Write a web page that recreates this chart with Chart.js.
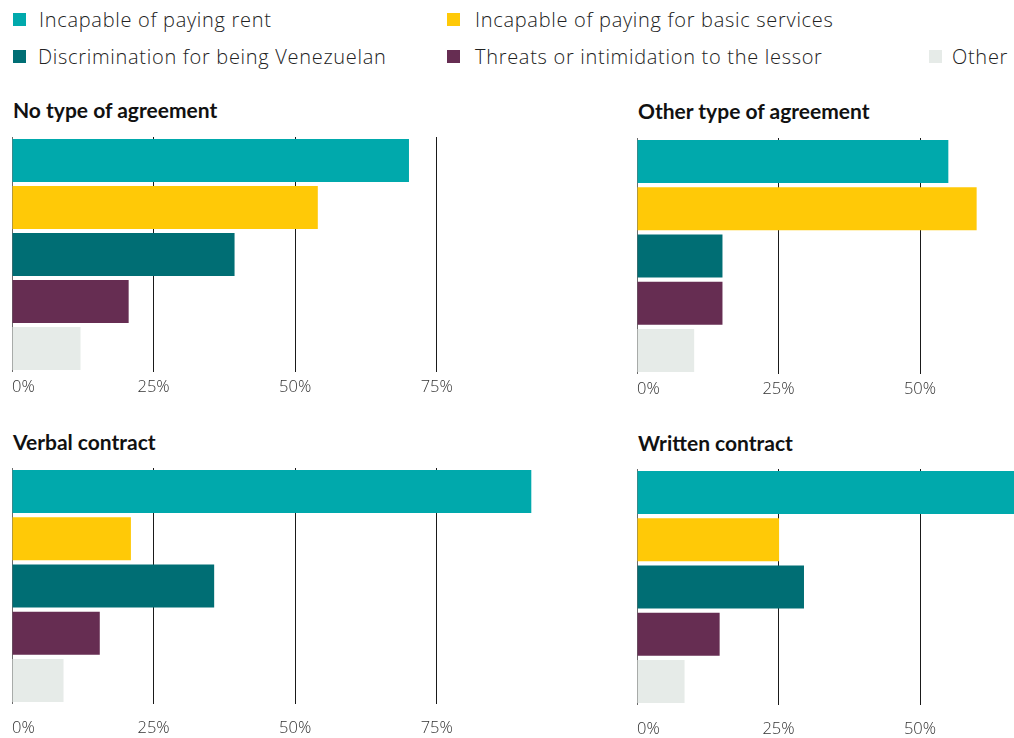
<!DOCTYPE html>
<html lang="en">
<head>
<meta charset="utf-8">
<title>Reasons for eviction by type of rental agreement</title>
<script src="https://cdn.jsdelivr.net/npm/chart.js@4.4.1/dist/chart.umd.min.js"></script>
<style>
  html, body { margin: 0; padding: 0; background: #ffffff; overflow: hidden; }
  body { width: 1014px; height: 738px; position: relative; font-family: "Open Sans", sans-serif; }
  .legend-item { position: absolute; height: 20px; display: flex; align-items: center; white-space: nowrap;
    font-family: "Open Sans", sans-serif; font-weight: 300; font-size: 20px; letter-spacing: 0.7px; color: #222; }
  .legend-swatch { width: 13px; height: 13px; margin-right: 13px; flex: none; }
  .panel-title { position: absolute; font-family: Lato, sans-serif; font-weight: 700; font-size: 21px;
    line-height: 21px; color: #111; white-space: nowrap; }
  canvas { position: absolute; }
</style>
</head>
<body>
<script>
// Reasons for eviction (one bar each, same order in every panel)
const reasons = [
  'Incapable of paying rent',
  'Incapable of paying for basic services',
  'Discrimination for being Venezuelan',
  'Threats or intimidation to the lessor',
  'Other'
];
const reasonColors = ['#00A9AC', '#FFC907', '#006E74', '#662D52', '#E6EBE8'];

// Panel titles: type of rental agreement
const agreementTypes = ['No type of agreement', 'Other type of agreement', 'Verbal contract', 'Written contract'];

// Share of respondents (%) citing each reason
const noAgreementPct    = [70.1, 54.0, 39.3, 20.6, 12.1];
const otherAgreementPct = [55.0, 60.0, 15.1, 15.1, 10.1];
const verbalContractPct = [91.7, 21.0, 35.7, 15.5, 9.1];
const writtenContractPct = [68.0, 25.1, 29.5, 14.6, 8.4];

// Axis ticks (percent)
const tickValues = [0, 25, 50, 75];

// ---- Legend ----
const legendSlots = [
  { left: 13,  top: 9,  gap: 13 },
  { left: 447, top: 9,  gap: 15 },
  { left: 13,  top: 46, gap: 12 },
  { left: 447, top: 46, gap: 15 },
  { left: 929, top: 46, gap: 10 }
];
reasons.forEach((name, i) => {
  const item = document.createElement('div');
  item.className = 'legend-item';
  item.style.left = legendSlots[i].left + 'px';
  item.style.top = legendSlots[i].top + 'px';
  const sw = document.createElement('span');
  sw.className = 'legend-swatch';
  sw.style.background = reasonColors[i];
  sw.style.marginRight = legendSlots[i].gap + 'px';
  const tx = document.createElement('span');
  tx.textContent = name;
  item.appendChild(sw);
  item.appendChild(tx);
  document.body.appendChild(item);
});

// ---- Panels ----
const panelLayout = [
  { values: noAgreementPct,    left: 12,  top: 137, width: 521, areaH: 235, max: 92,   titleTop: 99,  labelLine: 31 },
  { values: otherAgreementPct, left: 637, top: 138, width: 377, areaH: 236, max: 66.6, titleTop: 100, labelLine: 30 },
  { values: verbalContractPct, left: 12,  top: 468, width: 521, areaH: 236, max: 92,   titleTop: 431, labelLine: 49 },
  { values: writtenContractPct,left: 637, top: 469, width: 377, areaH: 236, max: 66.6, titleTop: 432, labelLine: 48 }
];

panelLayout.forEach((p, k) => {
  const t = document.createElement('div');
  t.className = 'panel-title';
  t.textContent = agreementTypes[k];
  t.style.left = (p.left + 1) + 'px';
  t.style.top = p.titleTop + 'px';
  document.body.appendChild(t);

  const canvas = document.createElement('canvas');
  const h = p.areaH + p.labelLine;
  canvas.width = p.width;
  canvas.height = h;
  canvas.style.left = p.left + 'px';
  canvas.style.top = p.top + 'px';
  canvas.style.width = p.width + 'px';
  canvas.style.height = h + 'px';
  document.body.appendChild(canvas);

  new Chart(canvas, {
    type: 'bar',
    data: {
      labels: reasons,
      datasets: [{
        data: p.values,
        backgroundColor: reasonColors,
        borderWidth: 0,
        barPercentage: 0.91,
        categoryPercentage: 1.0
      }]
    },
    options: {
      indexAxis: 'y',
      responsive: false,
      devicePixelRatio: 1,
      animation: false,
      layout: { padding: 0 },
      plugins: { legend: { display: false }, tooltip: { enabled: false } },
      scales: {
        y: { display: false },
        x: {
          type: 'linear',
          min: 0,
          max: p.max,
          border: { display: false },
          // fixed tick set, plus an unlabeled tick at the axis end so that
          // 'inner' alignment only pins the 0% label to the left edge
          afterBuildTicks: (scale) => {
            const ticks = tickValues.filter(v => v <= scale.max).map(v => ({ value: v }));
            if (ticks[ticks.length - 1].value !== scale.max) ticks.push({ value: scale.max, hidden: true });
            scale.ticks = ticks;
          },
          grid: {
            drawTicks: false,
            lineWidth: 1,
            color: (ctx) => {
              const v = ctx.tick ? ctx.tick.value : 0;
              if (!tickValues.includes(v)) return 'rgba(0,0,0,0)';
              return v === 0 ? '#6b6b6b' : '#1a1a1a';
            }
          },
          ticks: {
            autoSkip: false,
            maxRotation: 0,
            align: 'inner',
            padding: 0,
            color: '#333',
            font: { family: 'Open Sans', size: 16.5, weight: 300, lineHeight: p.labelLine + 'px' },
            callback: (v) => (tickValues.includes(v) ? v + '%' : '')
          }
        }
      }
    }
  });
});
</script>
</body>
</html>
